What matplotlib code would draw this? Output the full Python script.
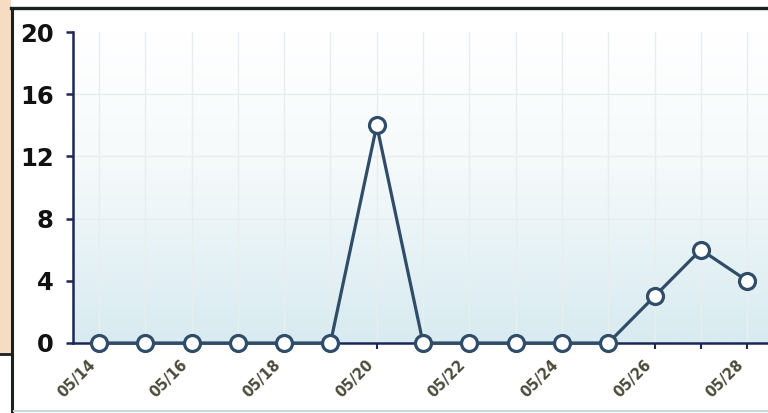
import numpy as np
import matplotlib
matplotlib.use("Agg")
import matplotlib.pyplot as plt
from matplotlib.colors import LinearSegmentedColormap
from matplotlib.lines import Line2D
from matplotlib.patches import Rectangle
from matplotlib.transforms import ScaledTranslation

# data
dates = ["05/14", "05/15", "05/16", "05/17", "05/18", "05/19", "05/20",
         "05/21", "05/22", "05/23", "05/24", "05/25", "05/26", "05/27", "05/28"]
counts = [0, 0, 0, 0, 0, 0, 14, 0, 0, 0, 0, 0, 3, 6, 4]
y_ticks = [0, 4, 8, 12, 16, 20]

W, H = 768, 413
fig = plt.figure(figsize=(W / 100, H / 100), dpi=100)
fig.patch.set_facecolor("white")

# frame around the screenshot crop
fig.add_artist(Rectangle((0, 1 - 354 / H), 11 / W, 354 / H, transform=fig.transFigure,
                         facecolor="#f6dcc2", edgecolor="none", zorder=0))
frame_kw = dict(transform=fig.transFigure, color="#1b1f1f", zorder=5)
fig.add_artist(Line2D([11 / W, 1], [1 - 8 / H, 1 - 8 / H], lw=2.4, **frame_kw))
fig.add_artist(Line2D([12 / W, 12 / W], [0, 1 - 8 / H], lw=2.2, **frame_kw))
fig.add_artist(Line2D([0, 12 / W], [1 - 354 / H, 1 - 354 / H], lw=2.0, **frame_kw))
fig.add_artist(Line2D([14 / W, 1], [1 - 411 / H, 1 - 411 / H], lw=1.5,
                      transform=fig.transFigure, color="#c3dad6", zorder=5))

left, bottom = 73 / W, (H - 343) / H
ax = fig.add_axes([left, bottom, 1 - left, (343 - 32) / H])

x = np.arange(len(dates))
ax.set_xlim(-0.56, 14.45)
ax.set_ylim(0, 20)

# background gradient, white at the top to pale blue at the bottom
cmap = LinearSegmentedColormap.from_list(
    "bg", [(0.0, "#d8ebf0"), (0.35, "#e9f4f7"), (0.6, "#f6fafb"), (1.0, "#ffffff")])
grad = np.linspace(0, 1, 256).reshape(-1, 1)
ax.imshow(grad, cmap=cmap, aspect="auto", extent=[0, 1, 0, 1],
          transform=ax.transAxes, origin="lower", zorder=0)
ax.set_facecolor("none")

for xi in x:
    ax.axvline(xi, color="#e8eeef", lw=1.0, zorder=1)
for yt in y_ticks[1:-1]:
    ax.axhline(yt, color="#e8eeef", lw=1.0, zorder=1)

ax.plot(x, counts, color="#2f4c68", lw=2.3, marker="o", markersize=11.5,
        markerfacecolor="white", markeredgecolor="#2f4c68", markeredgewidth=2.3,
        zorder=4, clip_on=False)

for side in ["top", "right"]:
    ax.spines[side].set_visible(False)
for side in ["left", "bottom"]:
    ax.spines[side].set_color("#1d2658")
    ax.spines[side].set_linewidth(1.8)

ax.set_yticks(y_ticks)
ax.set_yticklabels([str(v) for v in y_ticks], fontsize=17.5, fontweight="bold",
                   color="#111111")
ax.tick_params(axis="y", length=5, width=1.8, color="#1d2658", pad=9)

ax.set_xticks(x)
ax.set_xticklabels([d if i % 2 == 0 else "" for i, d in enumerate(dates)],
                   rotation=45, ha="right", va="center", rotation_mode="anchor",
                   fontsize=10.5, fontweight="bold", color="#4b4b3c")
ax.tick_params(axis="x", length=4, width=1.5, color="#1d2658", pad=10)
shift = ScaledTranslation(-6 / 100, 0, fig.dpi_scale_trans)
for lbl in ax.get_xticklabels():
    lbl.set_transform(lbl.get_transform() + shift)

fig.savefig("out.png", dpi=100)
